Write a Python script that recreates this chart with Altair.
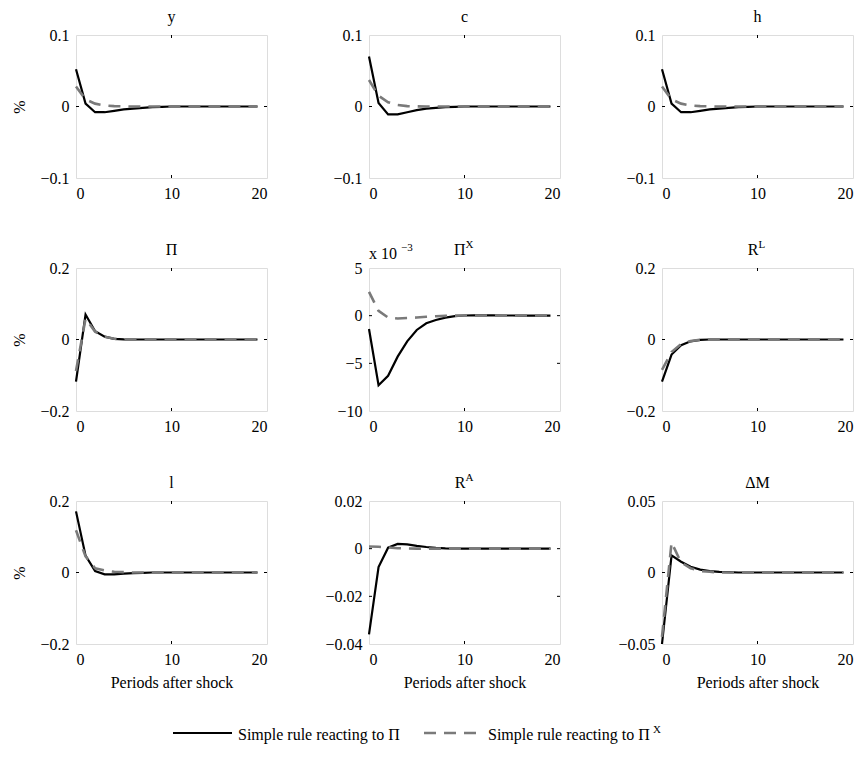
import altair as alt
import pandas as pd

periods = list(range(20))

# Responses: "Simple rule reacting to Pi" (black) vs "reacting to Pi^X" (grey dashed)
y_pi = [0.052, 0.004, -0.008, -0.008, -0.006, -0.004, -0.003, -0.002, -0.001, -0.0005,
        0, 0, 0, 0, 0, 0, 0, 0, 0, 0]
y_pix = [0.028, 0.010, 0.004, 0.0015, 0.0005, 0.0002, 0, 0, 0, 0,
         0, 0, 0, 0, 0, 0, 0, 0, 0, 0]
c_pi = [0.070, 0.005, -0.011, -0.011, -0.008, -0.005, -0.003, -0.002, -0.001, -0.0005,
        0, 0, 0, 0, 0, 0, 0, 0, 0, 0]
c_pix = [0.037, 0.015, 0.006, 0.002, 0.0005, 0.0002, 0, 0, 0, 0,
         0, 0, 0, 0, 0, 0, 0, 0, 0, 0]
h_pi = [0.052, 0.004, -0.008, -0.008, -0.006, -0.004, -0.003, -0.002, -0.001, -0.0005,
        0, 0, 0, 0, 0, 0, 0, 0, 0, 0]
h_pix = [0.028, 0.010, 0.004, 0.0015, 0.0005, 0.0002, 0, 0, 0, 0,
         0, 0, 0, 0, 0, 0, 0, 0, 0, 0]
p_pi = [-0.118, 0.070, 0.023, 0.008, 0.002, 0.0005, 0, 0, 0, 0,
        0, 0, 0, 0, 0, 0, 0, 0, 0, 0]
p_pix = [-0.088, 0.058, 0.022, 0.008, 0.002, 0.0005, 0, 0, 0, 0,
         0, 0, 0, 0, 0, 0, 0, 0, 0, 0]
px_pi = [-1.4, -7.3, -6.3, -4.3, -2.7, -1.5, -0.8, -0.45, -0.2, -0.05,
         0.02, 0.03, 0.03, 0.03, 0.02, 0.02, 0.01, 0.01, 0.01, 0.01]
px_pix = [2.5, 0.5, -0.2, -0.3, -0.25, -0.2, -0.12, -0.06, -0.02, 0,
          0.01, 0.01, 0.01, 0.01, 0.01, 0.01, 0.01, 0.01, 0.01, 0.01]
rl_pi = [-0.118, -0.042, -0.016, -0.005, -0.001, 0, 0, 0, 0, 0,
         0, 0, 0, 0, 0, 0, 0, 0, 0, 0]
rl_pix = [-0.085, -0.035, -0.013, -0.004, -0.001, 0, 0, 0, 0, 0,
          0, 0, 0, 0, 0, 0, 0, 0, 0, 0]
l_pi = [0.171, 0.047, 0.004, -0.005, -0.005, -0.003, -0.002, -0.001, 0, 0,
        0, 0, 0, 0, 0, 0, 0, 0, 0, 0]
l_pix = [0.118, 0.045, 0.012, 0.006, 0.002, 0.001, 0, 0, 0, 0,
         0, 0, 0, 0, 0, 0, 0, 0, 0, 0]
ra_pi = [-0.036, -0.0077, 0.0004, 0.002, 0.0018, 0.0012, 0.0007, 0.0003, 0.0001, 0,
         0, 0, 0, 0, 0, 0, 0, 0, 0, 0]
ra_pix = [0.0009, 0.0008, 0.0005, 0.0002, 0.0001, 0, 0, 0, 0, 0,
          0, 0, 0, 0, 0, 0, 0, 0, 0, 0]
dm_pi = [-0.050, 0.012, 0.0075, 0.004, 0.002, 0.001, 0.0005, 0.0002, 0, 0,
         0, 0, 0, 0, 0, 0, 0, 0, 0, 0]
dm_pix = [-0.045, 0.021, 0.007, 0.003, 0.001, 0.0005, 0, 0, 0, 0,
          0, 0, 0, 0, 0, 0, 0, 0, 0, 0]

titles = ["y", "c", "h", "Π", "Π", "R", "l", "R", "ΔM"]
supers = ["", "", "", "", "X", "L", "", "A", ""]
black_series = [y_pi, c_pi, h_pi, p_pi, px_pi, rl_pi, l_pi, ra_pi, dm_pi]
grey_series = [y_pix, c_pix, h_pix, p_pix, px_pix, rl_pix, l_pix, ra_pix, dm_pix]
y_ticks = [[-0.1, 0, 0.1], [-0.1, 0, 0.1], [-0.1, 0, 0.1],
           [-0.2, 0, 0.2], [-10, -5, 0, 5], [-0.2, 0, 0.2],
           [-0.2, 0, 0.2], [-0.04, -0.02, 0, 0.02], [-0.05, 0, 0.05]]
x_ticks = [0, 10, 20]
legend_labels = ["Simple rule reacting to Π", "Simple rule reacting to Π"]

W, H = 191, 143
FONT = "Liberation Serif"
FS = 16
GREY = "#7a7a7a"
DASH = [12, 8]


def panel(i):
    row, col = divmod(i, 3)
    ticks = y_ticks[i]
    df = pd.DataFrame({
        "period": periods + periods,
        "value": black_series[i] + grey_series[i],
        "series": ["pi"] * 20 + ["pix"] * 20,
    })
    xenc = alt.X("period:Q",
                 scale=alt.Scale(domain=[0, 20], nice=False),
                 axis=alt.Axis(values=x_ticks,
                               title="Periods after shock" if row == 2 else None,
                               titleFontWeight="normal", titleFont=FONT,
                               titleFontSize=FS, titlePadding=7,
                               labelFont=FONT, labelFontSize=FS, labelPadding=7,
                               ticks=False, tickSize=0, domain=False, grid=False,
                               labelColor="black", titleColor="black"))
    yenc = alt.Y("value:Q",
                 scale=alt.Scale(domain=[ticks[0], ticks[-1]], nice=False, zero=False),
                 axis=alt.Axis(values=ticks, format="~r",
                               title="%" if col == 0 else None,
                               titleFontWeight="normal", titleFont=FONT,
                               titleFontSize=FS, titlePadding=12,
                               labelFont=FONT, labelFontSize=FS, labelPadding=7,
                               ticks=False, tickSize=0, domain=False, grid=False,
                               labelColor="black", titleColor="black"))
    base = alt.Chart(df)
    black = base.transform_filter(alt.datum.series == "pi").mark_line(
        color="black", strokeWidth=2.2).encode(x=xenc, y=yenc)
    grey = base.transform_filter(alt.datum.series == "pix").mark_line(
        color=GREY, strokeWidth=2.6, strokeDash=DASH).encode(x="period:Q", y="value:Q")

    inner_x = pd.DataFrame({"period": x_ticks[1:-1]})
    inner_y = pd.DataFrame({"value": ticks[1:-1]})
    tb = alt.Chart(inner_x).mark_rule(color="black", strokeWidth=1).encode(
        x="period:Q", y=alt.value(H), y2=alt.value(H - 3))
    tt = alt.Chart(inner_x).mark_rule(color="black", strokeWidth=1).encode(
        x="period:Q", y=alt.value(0), y2=alt.value(3))
    tl = alt.Chart(inner_y).mark_rule(color="black", strokeWidth=1).encode(
        y="value:Q", x=alt.value(0), x2=alt.value(3))
    tr = alt.Chart(inner_y).mark_rule(color="black", strokeWidth=1).encode(
        y="value:Q", x=alt.value(W), x2=alt.value(W - 3))

    one = pd.DataFrame({"a": [0]})
    layers = [tb, tt, tl, tr, black, grey]
    if supers[i]:
        layers.append(alt.Chart(one).mark_text(
            text=titles[i], font=FONT, fontSize=FS, align="right",
            baseline="alphabetic", color="black").encode(
            x=alt.value(W / 2 + 1), y=alt.value(-13)))
        layers.append(alt.Chart(one).mark_text(
            text=supers[i], font=FONT, fontSize=11, align="left",
            baseline="alphabetic", color="black").encode(
            x=alt.value(W / 2 + 1), y=alt.value(-20)))
    else:
        layers.append(alt.Chart(one).mark_text(
            text=titles[i], font=FONT, fontSize=FS, align="center",
            baseline="alphabetic", color="black").encode(
            x=alt.value(W / 2), y=alt.value(-13)))
    if i == 4:
        layers.append(alt.Chart(one).mark_text(
            text="x 10", font=FONT, fontSize=FS, align="left",
            baseline="alphabetic", color="black").encode(
            x=alt.value(0), y=alt.value(-9)))
        layers.append(alt.Chart(one).mark_text(
            text="−3", font=FONT, fontSize=11, align="left",
            baseline="alphabetic", color="black").encode(
            x=alt.value(32), y=alt.value(-17)))
    if i == 7:
        # custom legend under the bottom-middle panel
        layers.append(alt.Chart(one).mark_rule(color="black", strokeWidth=2.2).encode(
            x=alt.value(-196), x2=alt.value(-137), y=alt.value(232)))
        layers.append(alt.Chart(one).mark_text(
            text=legend_labels[0], font=FONT, fontSize=FS, align="left",
            baseline="alphabetic", color="black").encode(
            x=alt.value(-131), y=alt.value(239)))
        layers.append(alt.Chart(one).mark_rule(color=GREY, strokeWidth=2.6,
                                               strokeDash=DASH).encode(
            x=alt.value(55), x2=alt.value(107), y=alt.value(232)))
        layers.append(alt.Chart(one).mark_text(
            text=legend_labels[1], font=FONT, fontSize=FS, align="left",
            baseline="alphabetic", color="black").encode(
            x=alt.value(119), y=alt.value(239)))
        layers.append(alt.Chart(one).mark_text(
            text="X", font=FONT, fontSize=11, align="left",
            baseline="alphabetic", color="black").encode(
            x=alt.value(284), y=alt.value(232)))
    return alt.layer(*layers).properties(width=W, height=H)


chart = alt.concat(*[panel(i) for i in range(9)], columns=3,
                   spacing={"row": 90, "column": 102},
                   bounds="flush", align="all").properties(
    padding={"left": 3, "top": 0, "right": 0, "bottom": 0}
).configure_view(stroke="black", strokeWidth=1).configure(
    background="white")

chart.save("out.html", embed_options={"renderer": "svg", "actions": False})
